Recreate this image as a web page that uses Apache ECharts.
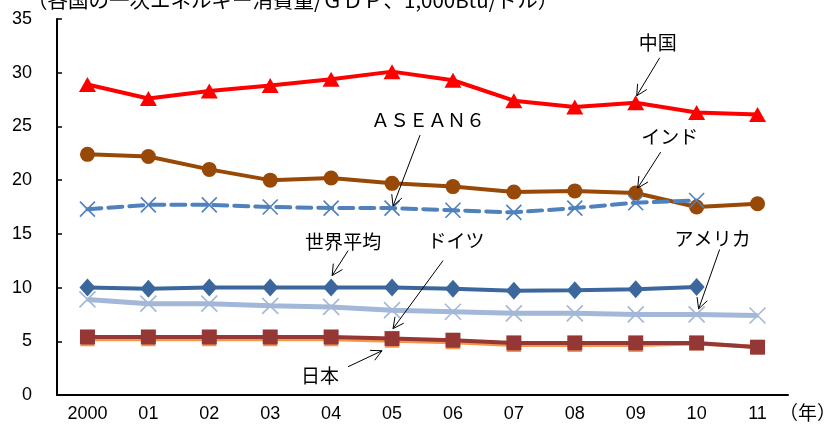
<!DOCTYPE html>
<html>
<head>
<meta charset="utf-8">
<script src="https://cdn.jsdelivr.net/npm/echarts@6/dist/echarts.min.js"></script>
<style>
  html, body { margin: 0; padding: 0; background: #fff; }
  #chart { width: 831px; height: 428px; }
</style>
</head>
<body>
<div id="chart"></div>
<script>
// Primary energy consumption per unit of GDP (1,000 Btu per US dollar)
const years = ['2000', '01', '02', '03', '04', '05', '06', '07', '08', '09', '10', '11'];
const yTicks = { min: 0, max: 35, interval: 5 };

const china   = [28.9, 27.6, 28.3, 28.8, 29.4, 30.1, 29.3, 27.4, 26.8, 27.2, 26.3, 26.1];
const india   = [22.4, 22.2, 21.0, 20.0, 20.2, 19.7, 19.4, 18.9, 19.0, 18.8, 17.5, 17.8];
const asean6  = [17.3, 17.7, 17.7, 17.5, 17.4, 17.4, 17.2, 17.0, 17.4, 17.9, 18.1, null];
const world   = [10.0, 9.9, 10.0, 10.0, 10.0, 10.0, 9.9, 9.7, 9.75, 9.85, 10.05, null];
const america = [8.9, 8.5, 8.5, 8.3, 8.2, 7.9, 7.75, 7.6, 7.6, 7.5, 7.5, 7.4];
const germany = [5.4, 5.4, 5.4, 5.4, 5.4, 5.25, 5.1, 4.85, 4.85, 4.85, 4.85, 4.45];
const japan   = [5.2, 5.2, 5.2, 5.2, 5.2, 5.05, 4.9, 4.65, 4.65, 4.65, 4.8, 4.5];

const titleText = '（各国の一次エネルギー消費量/ＧＤＰ、1,000Btu/ドル）';
const unitText = '（年）';

const CJK = '"Noto Sans CJK JP", "Noto Sans", sans-serif';
const NUM = '"Liberation Sans", Arial, sans-serif';
const CROSS = 'path://M0,0L10,10M10,0L0,10';

function lineSeries(name, data, color, width, symbol, size, extra) {
  return Object.assign({
    name: name,
    type: 'line',
    data: data,
    symbol: symbol,
    symbolSize: size,
    showAllSymbol: true,
    connectNulls: false,
    lineStyle: { color: color, width: width },
    itemStyle: { color: color, borderColor: color, borderWidth: 0, opacity: 1 },
    emphasis: { disabled: true }
  }, extra || {});
}

const series = [
  lineSeries('日本', japan, '#F79646', 4, 'triangle', [15, 14]),
  lineSeries('ドイツ', germany, '#953735', 4, 'rect', 15),
  lineSeries('アメリカ', america, '#A3B7D8', 5, CROSS, 16, {
    itemStyle: { color: '#A3B7D8', borderColor: '#A3B7D8', borderWidth: 1.6 }
  }),
  lineSeries('世界平均', world, '#3B679C', 4, 'diamond', [16, 18]),
  lineSeries('インド', india, '#984807', 4, 'circle', 15),
  lineSeries('ＡＳＥＡＮ６', asean6, '#4F81BD', 4, CROSS, 15, {
    lineStyle: { color: '#4F81BD', width: 4, type: [14, 7], cap: 'round' },
    itemStyle: { color: '#4F81BD', borderColor: '#4F81BD', borderWidth: 1.6 }
  }),
  lineSeries('中国', china, '#FF0000', 4, 'triangle', [17, 15])
];

const chart = echarts.init(document.getElementById('chart'), null, { renderer: 'canvas' });

chart.setOption({
  animation: false,
  backgroundColor: '#ffffff',
  grid: { left: 57, right: 43, top: 19, bottom: 33, containLabel: false },
  xAxis: {
    type: 'category',
    data: years,
    boundaryGap: true,
    axisLine: { lineStyle: { color: '#000', width: 2 } },
    axisTick: { show: false },
    axisLabel: { color: '#000', fontFamily: NUM, fontSize: 18, margin: 10 },
    splitLine: { show: false }
  },
  yAxis: {
    type: 'value',
    min: yTicks.min,
    max: yTicks.max,
    interval: yTicks.interval,
    axisLine: { show: true, lineStyle: { color: '#000', width: 2 } },
    axisTick: { show: true, inside: true, length: 5, lineStyle: { color: '#000', width: 1.5 } },
    axisLabel: { color: '#000', fontFamily: NUM, fontSize: 18, margin: 25 },
    splitLine: { show: false }
  },
  series: series
});

// Callout labels: each points at a data item, offsets are in pixels from that item
const callouts = [
  { text: '中国',        series: 6, idx: 9,  label: [22, -60], tail: [24, -45], tip: [1, -7] },
  { text: 'インド',      series: 4, idx: 9,  label: [34, -56], tail: [25, -41], tip: [2, -5] },
  { text: 'ＡＳＥＡＮ６', series: 5, idx: 5,  label: [36, -88], tail: [28, -73], tip: [1, -2] },
  { text: '世界平均',    series: 3, idx: 4,  label: [12, -46], tail: [17, -37], tip: [1, -12] },
  { text: 'ドイツ',      series: 1, idx: 5,  label: [64, -98], tail: [51, -78], tip: [1, -10] },
  { text: '日本',        series: 0, idx: 5,  label: [-72, 35], tail: [-44, 26], tip: [-10, 10] },
  { text: 'アメリカ',    series: 2, idx: 10, label: [16, -76], tail: [23, -65], tip: [2, -5.5] }
];

function arrowHead(tail, tip, len, angleDeg) {
  const dx = tip[0] - tail[0], dy = tip[1] - tail[1];
  const d = Math.sqrt(dx * dx + dy * dy) || 1;
  const ux = dx / d, uy = dy / d;
  const a = angleDeg * Math.PI / 180;
  const pts = [];
  [a, -a].forEach(function (t) {
    const rx = ux * Math.cos(t) - uy * Math.sin(t);
    const ry = ux * Math.sin(t) + uy * Math.cos(t);
    pts.push([tip[0] - rx * len, tip[1] - ry * len]);
  });
  return [pts[0], tip, pts[1]];
}

const graphics = [];
callouts.forEach(function (c) {
  const value = series[c.series].data[c.idx];
  const p = chart.convertToPixel({ seriesIndex: c.series }, [c.idx, value]);
  const tail = [p[0] + c.tail[0], p[1] + c.tail[1]];
  const tip = [p[0] + c.tip[0], p[1] + c.tip[1]];
  graphics.push({
    type: 'polyline', silent: true, z: 100,
    shape: { points: [tail, tip] },
    style: { stroke: '#000', lineWidth: 1, fill: null }
  });
  graphics.push({
    type: 'polyline', silent: true, z: 100,
    shape: { points: arrowHead(tail, tip, 12, 27) },
    style: { stroke: '#000', lineWidth: 1, fill: null }
  });
  graphics.push({
    type: 'text', silent: true, z: 100,
    x: p[0] + c.label[0], y: p[1] + c.label[1],
    style: {
      text: c.text, fill: '#000', font: '19px ' + CJK,
      textAlign: 'center', textVerticalAlign: 'middle'
    }
  });
});

// Unit caption above the plot and the year unit after the last category
graphics.push({
  type: 'text', silent: true, z: 100, x: 27, y: 0,
  style: { text: titleText, fill: '#000', font: '20.5px ' + CJK, textAlign: 'left', textVerticalAlign: 'middle' }
});
graphics.push({
  type: 'text', silent: true, z: 100, x: 779, y: 413,
  style: { text: unitText, fill: '#000', font: '19px ' + CJK, textAlign: 'left', textVerticalAlign: 'middle' }
});

chart.setOption({ graphic: graphics });
</script>
</body>
</html>
